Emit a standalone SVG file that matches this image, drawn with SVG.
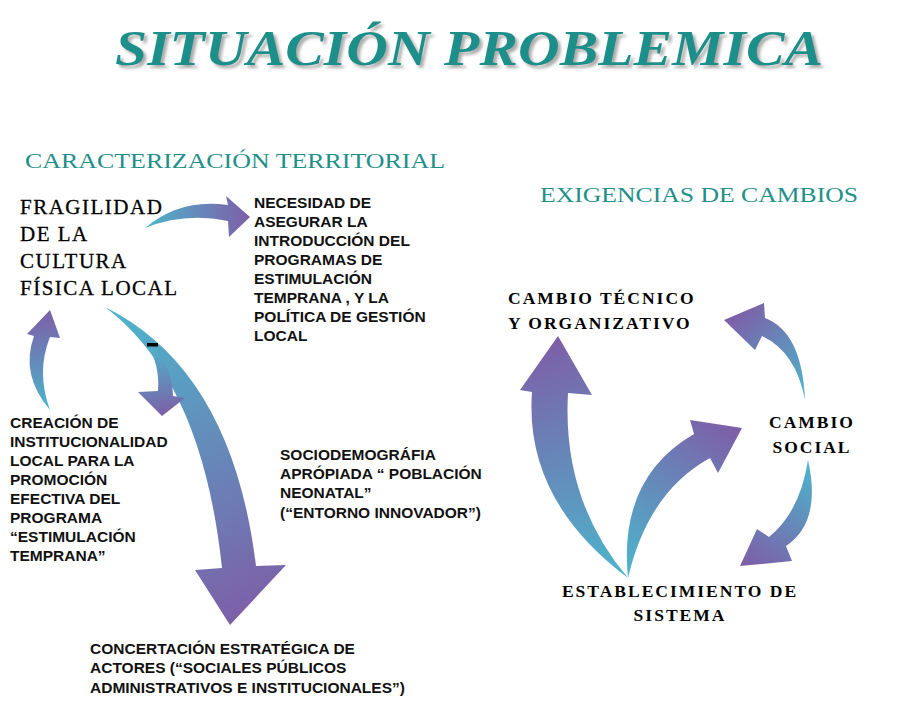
<svg xmlns="http://www.w3.org/2000/svg" width="919" height="710" viewBox="0 0 919 710">
<style>
.title{font-family:"Liberation Serif",serif;font-weight:bold;font-style:italic;font-size:50px;fill:#1f8f8a}
.sub{font-family:"Liberation Serif",serif;font-size:20px;fill:#1f8f8a}
.big{font-family:"Liberation Serif",serif;font-size:21px;letter-spacing:1.5px;fill:#000;stroke:#000;stroke-width:0.3}
.sans{font-family:"Liberation Sans",Arial,sans-serif;font-weight:bold;font-size:15.5px;fill:#111}
.bs{font-family:"Liberation Serif",serif;font-weight:bold;font-size:17.5px;letter-spacing:2px;fill:#000}
</style>
<defs>
<filter id="sh"><feDropShadow dx="3" dy="3" stdDeviation="1.5" flood-color="#999" flood-opacity="0.8"/></filter>
<linearGradient id="g1" gradientUnits="userSpaceOnUse" x1="145" y1="228" x2="248" y2="218"><stop offset="0" stop-color="#4cb6cc"/><stop offset="1" stop-color="#7d5fa8"/></linearGradient>
<linearGradient id="g2" gradientUnits="userSpaceOnUse" x1="50" y1="410" x2="42" y2="312"><stop offset="0" stop-color="#4cb6cc"/><stop offset="1" stop-color="#7d5fa8"/></linearGradient>
<linearGradient id="g3" gradientUnits="userSpaceOnUse" x1="150" y1="345" x2="162" y2="416"><stop offset="0" stop-color="#4cb6cc"/><stop offset="1" stop-color="#7d5fa8"/></linearGradient>
<linearGradient id="g4" gradientUnits="userSpaceOnUse" x1="105" y1="307" x2="235" y2="620"><stop offset="0" stop-color="#4cb6cc"/><stop offset="1" stop-color="#7d5fa8"/></linearGradient>
<linearGradient id="g5" gradientUnits="userSpaceOnUse" x1="628" y1="578" x2="556" y2="340"><stop offset="0" stop-color="#4cb6cc"/><stop offset="1" stop-color="#7d5fa8"/></linearGradient>
<linearGradient id="g6" gradientUnits="userSpaceOnUse" x1="628" y1="578" x2="735" y2="430"><stop offset="0" stop-color="#4cb6cc"/><stop offset="1" stop-color="#7d5fa8"/></linearGradient>
<linearGradient id="g7" gradientUnits="userSpaceOnUse" x1="805" y1="400" x2="728" y2="320"><stop offset="0" stop-color="#4cb6cc"/><stop offset="1" stop-color="#7d5fa8"/></linearGradient>
<linearGradient id="g8" gradientUnits="userSpaceOnUse" x1="808" y1="460" x2="745" y2="563"><stop offset="0" stop-color="#4cb6cc"/><stop offset="1" stop-color="#7d5fa8"/></linearGradient>
</defs>
<rect width="919" height="710" fill="#fff"/>
<text class="title" x="115" y="65" textLength="708" lengthAdjust="spacingAndGlyphs" filter="url(#sh)">SITUACIÓN  PROBLEMICA</text>
<text class="sub" x="25" y="168" textLength="420" lengthAdjust="spacingAndGlyphs">CARACTERIZACIÓN TERRITORIAL</text>
<text class="sub" x="540" y="202" textLength="318" lengthAdjust="spacingAndGlyphs">EXIGENCIAS DE CAMBIOS</text>
<g id="connectors">
<path fill="url(#g1)" d="M145,228 Q180,198 228,205 L226,196 L250,217 L229,237 L228,221 Q185,212 145,228 Z"/>
<path fill="url(#g2)" d="M50,410 Q20,375 34,336 L27,334 L50,310 L60,338 L50,337 Q36,372 50,410 Z"/>
<path fill="url(#g4)" d="M105,307 Q232,370 256,566 L286,565 L230,625 L195,570 L222,568 Q202,380 105,307 Z"/>
<path fill="url(#g3)" d="M147,344 Q160,365 158,391 L138,392 L162,416 L185,398 L173,396 Q172,362 147,344 Z"/>
<path fill="url(#g5)" d="M628,578 Q524,500 532,392 L520,390 L558,336 L592,395 L568,393 Q562,500 628,578 Z"/>
<path fill="url(#g6)" d="M628,578 Q618,478 694,434 L690,420 L742,428 L718,473 L710,458 Q648,492 628,578 Z"/>
<path fill="url(#g7)" d="M805,400 Q796,352 762,336 L755,350 L724,320 L764,303 L765,318 Q802,332 805,400 Z"/>
<path fill="url(#g8)" d="M808,460 Q822,522 786,546 L792,561 L740,566 L757,529 L769,537 Q800,512 808,460 Z"/>
</g>
<g id="n-fragilidad"><text class="big" x="20" y="214">FRAGILIDAD</text><text class="big" x="20" y="241">DE LA</text><text class="big" x="20" y="268">CULTURA</text><text class="big" x="20" y="295">FÍSICA LOCAL</text></g>
<g id="n-necesidad"><text class="sans" x="254" y="208">NECESIDAD DE</text><text class="sans" x="254" y="227">ASEGURAR LA</text><text class="sans" x="254" y="246">INTRODUCCIÓN DEL</text><text class="sans" x="254" y="265">PROGRAMAS DE</text><text class="sans" x="254" y="284">ESTIMULACIÓN</text><text class="sans" x="254" y="303">TEMPRANA , Y LA</text><text class="sans" x="254" y="322">POLÍTICA DE GESTIÓN</text><text class="sans" x="254" y="341">LOCAL</text></g>
<g id="n-minus"><rect x="147" y="343" width="11" height="3.5" fill="#000"/></g>
<g id="n-creacion"><text class="sans" x="10" y="428">CREACIÓN DE</text><text class="sans" x="10" y="447">INSTITUCIONALIDAD</text><text class="sans" x="10" y="466">LOCAL PARA LA</text><text class="sans" x="10" y="485">PROMOCIÓN</text><text class="sans" x="10" y="504">EFECTIVA DEL</text><text class="sans" x="10" y="523">PROGRAMA</text><text class="sans" x="10" y="542">“ESTIMULACIÓN</text><text class="sans" x="10" y="561">TEMPRANA”</text></g>
<g id="n-socio"><text class="sans" x="280" y="460">SOCIODEMOGRÁFIA</text><text class="sans" x="280" y="479">APRÓPIADA “ POBLACIÓN</text><text class="sans" x="280" y="498">NEONATAL”</text><text class="sans" x="280" y="518">(“ENTORNO INNOVADOR”)</text></g>
<g id="n-concertacion"><text class="sans" x="90" y="654">CONCERTACIÓN ESTRATÉGICA DE</text><text class="sans" x="90" y="673">ACTORES (“SOCIALES PÚBLICOS</text><text class="sans" x="90" y="693">ADMINISTRATIVOS E INSTITUCIONALES”)</text></g>
<g id="n-tecnico"><text class="bs" x="508" y="304">CAMBIO TÉCNICO</text><text class="bs" x="508" y="329">Y ORGANIZATIVO</text></g>
<g id="n-social"><text class="bs" x="812" y="428" text-anchor="middle">CAMBIO</text><text class="bs" x="812" y="453" text-anchor="middle">SOCIAL</text></g>
<g id="n-establecimiento"><text class="bs" x="680" y="597" text-anchor="middle">ESTABLECIMIENTO DE</text><text class="bs" x="680" y="621" text-anchor="middle">SISTEMA</text></g>
</svg>
